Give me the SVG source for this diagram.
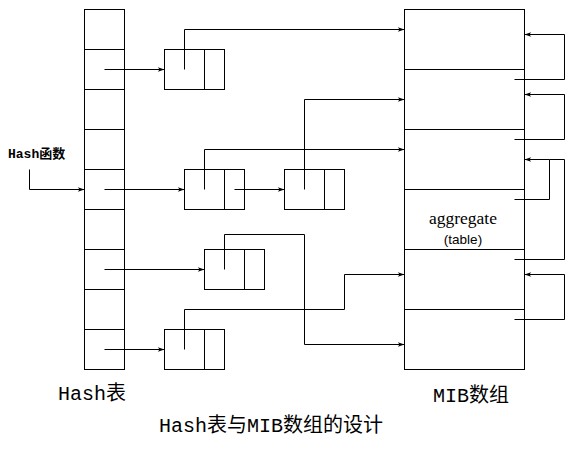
<svg xmlns="http://www.w3.org/2000/svg" width="576" height="461" viewBox="0 0 576 461">
<style>
.s{fill:none;stroke:#000;stroke-width:1}
.c{fill:none;stroke:#000;stroke-width:1}
.a{marker-end:url(#ah)}
.mono{font-family:"Liberation Mono","Noto Sans CJK SC",monospace;fill:#000}
</style>
<defs>
<marker id="ah" viewBox="0 0 8 6" refX="8" refY="3" markerWidth="8" markerHeight="5" markerUnits="userSpaceOnUse" orient="auto">
<path d="M0,0.3 L8,3 L0,5.7 L2,3 z" fill="#000"/>
</marker>
</defs>
<rect width="576" height="461" fill="#fff"/>
<g transform="translate(0.5,0.5)">
<g id="hash-table">
<rect class="s" x="84" y="9" width="40" height="360"/>
<path class="s" d="M84,49H124M84,89H124M84,129H124M84,169H124M84,209H124M84,249H124M84,289H124M84,329H124"/>
</g>
<g id="mib-array">
<rect class="s" x="404" y="9" width="120" height="360"/>
<path class="s" d="M404,69H524M404,129H524M404,189H524M404,249H524M404,309H524"/>
</g>
<g id="node1"><rect class="s" x="164" y="49" width="60" height="40"/><path class="s" d="M204,49V89"/></g>
<g id="node2"><rect class="s" x="184" y="169" width="60" height="40"/><path class="s" d="M224,169V209"/></g>
<g id="node3"><rect class="s" x="284" y="169" width="60" height="40"/><path class="s" d="M324,169V209"/></g>
<g id="node4"><rect class="s" x="204" y="249" width="60" height="40"/><path class="s" d="M244,249V289"/></g>
<g id="node5"><rect class="s" x="164" y="329" width="60" height="40"/><path class="s" d="M204,329V369"/></g>
<g id="connectors">
<path class="c a" d="M104,69H164"/>
<path class="c a" d="M104,189H184"/>
<path class="c a" d="M104,269H204"/>
<path class="c a" d="M104,349H164"/>
<path class="c a" d="M29,169V189H84"/>
<path class="c a" d="M234,189H284"/>
<path class="c a" d="M184,69V29H404"/>
<path class="c a" d="M204,189V149H404"/>
<path class="c a" d="M304,189V99H404"/>
<path class="c a" d="M224,269V234H304V344H404"/>
<path class="c a" d="M184,349V309H344V274H404"/>
<path class="c a" d="M514,79H564V34H524"/>
<path class="c a" d="M514,139H564V94H524"/>
<path class="c a" d="M514,199H549V159H524"/>
<path class="c" d="M514,259H564V159H549"/>
<path class="c a" d="M514,319H564V274H524"/>
</g>
</g>
<text class="mono" x="8" y="158" font-size="13" font-weight="bold">Hash函数</text>
<text x="463" y="224" font-family="Liberation Serif,serif" font-size="17.5" text-anchor="middle">aggregate</text>
<text x="463" y="244" font-family="Liberation Sans,sans-serif" font-size="13.5" text-anchor="middle">(table)</text>
<text class="mono" x="58" y="400" font-size="20">Hash表</text>
<text class="mono" x="433" y="402" font-size="20">MIB数组</text>
<text class="mono" x="159" y="432" font-size="20">Hash表与MIB数组的设计</text>
</svg>
